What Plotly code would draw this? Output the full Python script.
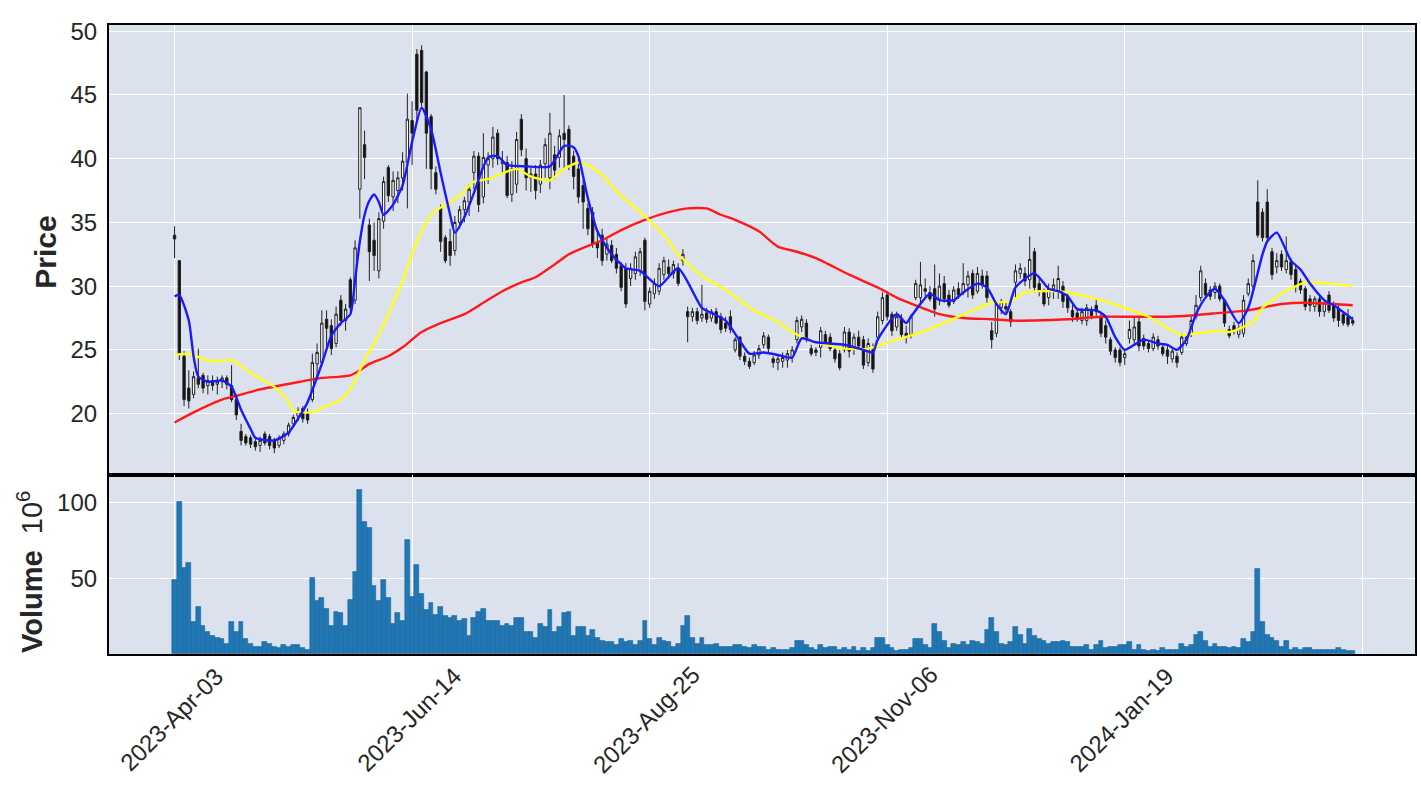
import plotly.graph_objects as go

# ---------------- data ----------------
opens = [34.0, 32.0, 24.5, 22.0, 21.5, 22.8, 23.0, 22.2, 22.6, 22.3,
         22.5, 22.8, 22.2, 21.1, 18.6, 18.2, 18.1, 17.8, 17.5, 18.4,
         18.2, 17.9, 17.5, 17.9, 18.4, 19.2, 19.8, 20.4, 20.0, 21.1,
         23.9, 24.0, 27.4, 26.9, 25.5, 28.9, 27.3, 30.5, 28.9, 37.6,
         41.1, 34.8, 33.6, 31.2, 35.1, 39.3, 37.0, 37.5, 38.5, 39.7,
         43.0, 48.2, 48.5, 46.8, 43.3, 38.9, 36.1, 33.8, 33.5, 32.8,
         35.0, 36.0, 36.6, 38.9, 40.2, 37.0, 39.5, 40.0, 42.0, 39.6,
         39.7, 37.2, 38.0, 43.1, 40.0, 38.5, 38.8, 38.0, 39.6, 38.5,
         40.3, 40.1, 42.0, 42.3, 40.2, 39.2, 37.9, 36.1, 35.8, 33.4,
         34.0, 32.5, 33.2, 32.5, 31.6, 31.4, 30.6, 31.0, 31.2, 33.6,
         28.6, 29.4, 29.6, 30.9, 31.5, 31.0, 31.4, 32.0, 28.0, 27.6,
         28.0, 27.5, 27.9, 27.5, 28.0, 27.6, 27.1, 27.6, 25.0, 26.0,
         24.5, 24.1, 24.0, 24.6, 25.4, 26.0, 24.3, 24.0, 24.1, 24.2,
         24.4, 25.8, 26.8, 27.1, 25.1, 25.0, 25.2, 26.2, 26.0, 25.0,
         24.7, 25.0, 26.4, 25.1, 26.0, 25.8, 24.0, 25.0, 26.0, 27.3,
         29.3, 27.8, 26.8, 27.5, 26.3, 26.2, 29.1, 29.1, 29.8, 29.5,
         29.8, 29.0, 30.2, 29.3, 28.8, 29.8, 29.5, 30.1, 31.0, 29.6,
         30.8, 30.8, 26.5, 26.3, 28.3, 28.4, 28.0, 30.3, 31.0, 31.0,
         30.5, 32.7, 30.2, 29.5, 29.1, 29.8, 29.6, 30.0, 29.2, 28.1,
         27.9, 27.3, 27.3, 28.1, 28.5, 27.6, 26.9, 25.8, 25.0, 25.0,
         24.4, 25.9, 25.8, 27.2, 25.9, 25.5, 25.1, 25.8, 25.2, 25.0,
         24.3, 24.5, 24.8, 25.5, 26.3, 27.6, 29.1, 30.2, 29.7, 29.5,
         30.0, 28.9, 26.6, 26.9, 26.2, 26.3, 29.4, 30.0, 36.6, 35.8,
         36.6, 32.7, 31.5, 32.5, 31.3, 31.9, 31.3, 30.4, 29.8, 29.0,
         28.4, 29.0, 28.0, 29.3, 28.6, 28.2, 27.8, 27.6, 27.3]

highs = [34.7, 32.0, 24.9, 23.4, 23.3, 25.1, 23.2, 23.0, 23.0, 22.9,
         23.0, 23.0, 23.8, 21.3, 19.2, 18.4, 18.3, 18.0, 18.2, 18.6,
         18.4, 18.1, 18.3, 18.6, 19.3, 19.9, 20.5, 20.6, 20.4, 24.7,
         25.5, 28.1, 28.1, 27.4, 28.4, 29.3, 28.6, 30.7, 33.6, 44.0,
         42.2, 35.3, 35.0, 35.8, 38.6, 39.5, 39.0, 39.0, 40.5, 45.1,
         44.5, 48.6, 48.9, 46.9, 43.5, 39.4, 36.4, 34.0, 34.5, 35.5,
         36.3, 37.0, 38.0, 40.6, 40.5, 42.0, 40.5, 42.5, 42.3, 40.6,
         40.2, 39.8, 42.1, 43.5, 40.8, 39.3, 39.5, 39.9, 41.6, 43.6,
         41.0, 42.3, 45.0, 42.6, 40.6, 40.0, 38.3, 36.5, 36.2, 34.5,
         34.5, 33.8, 33.6, 33.0, 31.9, 31.8, 31.8, 32.7, 33.0, 33.8,
         29.9, 30.6, 31.8, 32.3, 32.1, 32.0, 31.8, 32.9, 28.4, 28.3,
         28.3, 30.1, 28.3, 28.2, 28.3, 27.9, 27.6, 28.1, 26.0, 26.1,
         24.8, 24.4, 24.9, 25.4, 26.4, 26.2, 24.5, 24.6, 24.8, 25.0,
         25.3, 27.6, 27.7, 27.4, 25.4, 25.2, 26.8, 26.5, 26.3, 25.2,
         25.0, 26.8, 26.7, 26.3, 26.5, 26.1, 25.9, 25.5, 28.0, 29.5,
         29.6, 28.0, 28.0, 27.8, 26.9, 27.8, 30.5, 31.9, 30.6, 30.0,
         31.7, 31.0, 30.8, 29.7, 30.0, 30.3, 31.8, 31.2, 31.3, 31.5,
         31.3, 31.2, 27.2, 28.8, 29.0, 28.7, 28.2, 31.7, 31.8, 31.5,
         33.9, 33.0, 30.8, 29.8, 30.2, 30.6, 31.6, 30.4, 29.5, 28.5,
         28.3, 28.3, 28.6, 28.4, 29.0, 28.0, 27.3, 26.0, 25.2, 25.2,
         25.1, 27.3, 27.5, 27.6, 26.2, 25.8, 26.3, 26.1, 25.4, 25.3,
         25.1, 24.8, 26.3, 26.3, 27.6, 29.3, 31.6, 30.6, 30.0, 30.3,
         30.2, 29.0, 26.9, 27.2, 27.0, 29.3, 30.6, 32.5, 38.3, 36.1,
         37.6, 33.0, 32.6, 32.8, 33.9, 32.2, 31.6, 30.6, 30.0, 29.3,
         29.2, 29.3, 29.0, 29.6, 28.8, 28.5, 28.0, 28.2, 27.6]

lows = [32.2, 24.2, 20.6, 20.4, 21.2, 22.0, 21.6, 21.5, 21.8, 21.5,
        22.0, 21.9, 20.9, 19.5, 17.5, 17.5, 17.3, 17.1, 17.0, 17.5,
        17.2, 16.9, 17.3, 17.6, 18.2, 18.9, 19.4, 19.3, 19.2, 20.9,
        22.8, 23.8, 24.9, 24.6, 25.2, 26.9, 26.5, 28.0, 28.6, 35.3,
        38.4, 30.4, 31.2, 30.6, 34.5, 36.6, 35.9, 36.5, 37.5, 36.1,
        39.5, 42.8, 44.1, 39.2, 37.6, 37.2, 32.7, 31.8, 31.6, 32.4,
        34.5, 35.0, 35.5, 37.6, 35.8, 36.5, 38.0, 39.3, 39.5, 38.8,
        36.9, 36.6, 37.3, 40.2, 37.5, 37.4, 36.8, 37.3, 38.5, 37.6,
        38.4, 39.3, 39.1, 39.1, 37.6, 36.5, 34.5, 34.0, 33.0, 32.2,
        31.6, 32.0, 31.8, 31.0, 29.6, 28.3, 30.0, 30.5, 30.8, 28.1,
        28.3, 29.0, 29.3, 30.5, 30.8, 30.6, 30.0, 31.6, 25.6, 27.2,
        27.0, 27.2, 27.1, 27.2, 27.0, 26.3, 26.4, 26.3, 24.8, 24.2,
        23.8, 23.5, 23.8, 24.3, 25.1, 24.8, 23.6, 23.4, 23.6, 23.6,
        24.0, 25.5, 26.4, 25.6, 24.5, 24.5, 24.4, 25.3, 24.9, 24.0,
        23.4, 24.8, 24.4, 24.6, 25.0, 23.5, 23.7, 23.2, 25.8, 27.0,
        27.3, 26.1, 26.5, 25.9, 25.5, 25.9, 28.9, 28.6, 29.2, 28.8,
        27.6, 28.5, 28.7, 28.3, 28.6, 29.0, 29.3, 29.1, 29.0, 29.4,
        29.8, 28.7, 25.1, 26.0, 27.8, 27.8, 26.8, 29.0, 30.6, 30.0,
        29.8, 29.5, 29.2, 28.4, 28.5, 29.0, 29.0, 28.3, 27.9, 27.2,
        27.2, 27.0, 26.9, 27.4, 27.6, 26.0, 25.5, 24.6, 24.0, 23.7,
        23.8, 25.5, 25.3, 24.9, 25.0, 24.8, 24.9, 25.0, 24.5, 23.9,
        24.0, 23.6, 24.6, 25.3, 26.0, 27.4, 28.8, 29.0, 28.9, 29.0,
        28.8, 26.8, 25.9, 26.2, 25.9, 26.0, 29.2, 29.8, 33.8, 33.5,
        33.5, 30.5, 31.0, 31.2, 31.0, 30.5, 29.5, 29.4, 28.1, 28.0,
        28.0, 27.6, 27.6, 27.9, 27.2, 26.8, 26.9, 26.8, 26.9]

closes = [33.7, 24.7, 21.1, 21.0, 22.9, 22.3, 22.0, 22.6, 22.2, 22.5,
          22.8, 22.3, 21.1, 19.9, 17.9, 17.7, 17.6, 17.4, 17.9, 17.7,
          17.5, 17.3, 18.1, 18.4, 19.1, 19.7, 20.2, 19.6, 19.5, 24.0,
          24.8, 27.1, 26.7, 25.1, 27.8, 27.3, 28.2, 28.3, 33.0, 44.0,
          40.1, 32.7, 32.4, 35.3, 38.2, 37.1, 38.3, 38.5, 39.8, 43.1,
          42.0, 43.8, 44.4, 42.0, 39.2, 37.6, 33.5, 32.0, 32.4, 35.0,
          36.0, 36.7, 37.6, 40.2, 36.4, 40.1, 40.0, 41.7, 40.0, 39.8,
          37.1, 39.2, 41.5, 40.7, 38.5, 38.8, 37.5, 39.5, 41.1, 42.0,
          39.1, 41.8, 41.5, 39.5, 38.6, 37.0, 36.6, 34.5, 33.3, 33.0,
          32.0, 33.3, 32.0, 31.4, 29.9, 28.6, 31.4, 32.3, 32.7, 28.8,
          29.6, 30.2, 31.4, 32.0, 31.0, 31.7, 30.2, 32.5, 27.6, 28.0,
          27.3, 27.8, 27.4, 28.0, 27.1, 26.6, 26.7, 26.6, 25.8, 24.5,
          24.1, 23.7, 24.6, 25.1, 26.1, 25.1, 24.0, 24.3, 24.4, 24.7,
          25.0, 27.3, 27.4, 25.8, 24.7, 24.8, 26.5, 25.6, 25.1, 24.3,
          23.6, 26.4, 24.9, 26.0, 25.3, 23.8, 25.5, 23.5, 27.6, 29.1,
          27.6, 26.5, 27.6, 26.2, 26.0, 27.6, 30.2, 30.1, 29.6, 29.0,
          28.2, 30.0, 29.0, 28.5, 29.7, 29.3, 30.2, 30.8, 29.3, 31.0,
          30.1, 29.1, 25.8, 28.6, 28.8, 28.2, 27.2, 31.2, 31.4, 30.4,
          32.1, 29.9, 29.6, 28.6, 29.8, 30.1, 30.6, 28.8, 28.3, 27.6,
          27.4, 28.0, 28.3, 27.7, 28.0, 26.3, 26.0, 24.9, 24.4, 24.0,
          24.7, 26.6, 26.8, 25.3, 25.3, 25.1, 26.0, 25.3, 24.7, 24.5,
          24.9, 24.0, 26.0, 26.0, 27.3, 28.5, 31.2, 29.3, 29.2, 30.0,
          29.0, 27.1, 26.1, 26.5, 26.7, 28.9, 30.2, 32.0, 34.0, 33.8,
          33.8, 30.9, 32.0, 31.5, 32.0, 30.9, 30.0, 29.7, 28.4, 28.5,
          29.0, 28.0, 28.7, 28.1, 27.5, 27.3, 27.1, 27.0, 27.1]

# volume in millions
volumes = [49, 100, 57, 60, 21, 31, 19, 15, 12, 11,
           10, 7, 21, 15, 21, 10, 7, 5, 5, 8,
           7, 5, 4, 6, 5, 6, 6, 4, 3, 50,
           35, 37, 30, 19, 28, 27, 19, 36, 54, 108,
           87, 83, 45, 35, 49, 37, 20, 27, 22, 75,
           38, 59, 40, 29, 34, 26, 31, 25, 24, 25,
           22, 23, 12, 24, 28, 30, 22, 22, 22, 19,
           20, 19, 24, 24, 15, 15, 11, 20, 18, 29,
           15, 18, 27, 28, 12, 18, 18, 12, 16, 11,
           9, 8, 8, 6, 10, 8, 9, 6, 9, 22,
           10, 6, 11, 9, 8, 5, 7, 19, 25, 11,
           7, 11, 6, 6, 7, 5, 5, 5, 6, 6,
           5, 4, 6, 5, 5, 3, 4, 3, 3, 3,
           4, 9, 9, 6, 4, 3, 6, 4, 5, 5,
           3, 4, 3, 5, 2, 4, 2, 4, 11, 11,
           6, 4, 2, 3, 3, 4, 10, 10, 6, 4,
           20, 15, 9, 4, 7, 6, 8, 6, 9, 8,
           7, 16, 24, 15, 7, 6, 8, 18, 13, 7,
           17, 12, 10, 9, 7, 8, 8, 9, 8, 5,
           5, 5, 6, 3, 6, 9, 4, 5, 5, 6,
           6, 8, 3, 6, 3, 2, 3, 2, 4, 3,
           3, 3, 7, 5, 6, 13, 15, 9, 5, 7,
           5, 5, 4, 5, 4, 10, 8, 15, 56, 21,
           13, 11, 9, 5, 9, 3, 4, 3, 4, 4,
           3, 3, 3, 3, 3, 4, 3, 2, 2]

# moving-average lines, read at sample bar positions
ma_fast_idx = [0, 1, 3, 4, 5, 7, 10, 12, 14, 16, 17, 21, 24, 26, 28, 31, 33, 35, 37, 38,
               39, 40, 41, 42, 43, 44, 46, 48, 50, 52, 54, 56, 58, 59, 61, 63, 66, 68, 70, 74,
               79, 82, 84, 85, 87, 89, 92, 95, 98, 102, 106, 111, 113, 116, 119, 121, 124, 127, 130, 132,
               135, 141, 145, 147, 148, 152, 154, 155, 159, 161, 164, 166, 169, 171, 173, 175, 177, 181, 184, 186,
               188, 190, 194, 196, 198, 200, 202, 204, 207, 209, 211, 213, 215, 217, 219, 221, 224, 226, 229, 230,
               232, 235, 237, 239, 242, 244, 248]
ma_fast_val = [29.2, 29.3, 27.3, 24.5, 22.9, 22.5, 22.6, 22.1, 20.3, 18.8, 18.1, 17.9, 18.5, 19.6, 20.9, 23.9, 26.1, 27.1, 27.8, 30.5,
               33.5, 35.6, 36.7, 37.2, 36.6, 35.6, 36.4, 37.9, 41.3, 44.0, 42.3, 38.9, 35.6, 34.2, 35.4, 37.3, 40.1, 40.2, 39.5, 39.4,
               39.4, 41.0, 40.9, 40.2, 36.9, 34.3, 32.5, 31.4, 31.2, 30.0, 31.4, 28.3, 27.9, 27.3, 25.7, 24.7, 24.8, 24.6, 24.4, 25.9,
               25.6, 25.4, 25.0, 24.8, 25.8, 27.8, 27.1, 27.6, 29.4, 28.9, 28.9, 29.5, 30.2, 29.9, 28.6, 27.8, 29.9, 31.0, 29.8, 29.6,
               29.2, 28.2, 28.1, 27.6, 26.0, 25.0, 25.4, 25.8, 25.5, 25.4, 25.0, 25.8, 27.8, 29.1, 29.8, 28.9, 27.1, 28.3, 32.5, 33.5,
               34.2, 32.0, 31.3, 30.2, 28.9, 28.5, 27.4]

ma_mid_idx = [0, 3, 6, 8, 12, 16, 21, 24, 25, 27, 29, 32, 35, 37, 39, 41, 42, 45, 48, 51,
              54, 57, 60, 63, 66, 68, 72, 75, 79, 82, 85, 87, 90, 94, 99, 103, 106, 111, 116, 122,
              127, 130, 134, 141, 146, 151, 158, 165, 172, 176, 179, 186, 193, 200, 205, 209, 212, 215, 220, 222,
              227, 229, 233, 238, 243, 248]
ma_mid_val = [24.6, 24.7, 24.3, 24.1, 24.2, 23.2, 22.1, 20.9, 20.2, 20.1, 20.1, 20.6, 21.1, 21.9, 23.4, 24.9, 25.5, 27.8, 30.4, 33.5,
              35.6, 36.4, 37.1, 38.2, 38.4, 38.7, 39.2, 38.6, 38.3, 39.2, 39.7, 39.5, 38.7, 37.1, 35.5, 34.0, 32.5, 30.8, 29.7, 28.1,
              27.2, 26.4, 25.7, 25.1, 25.1, 25.7, 26.5, 27.6, 28.7, 28.8, 29.5, 29.6, 29.1, 28.3, 27.6, 26.7, 26.2, 26.3, 26.5, 26.4,
              27.2, 28.3, 29.4, 30.3, 30.2, 30.0]

ma_slow_idx = [0, 4, 10, 13, 18, 25, 31, 35, 37, 39, 41, 45, 48, 52, 56, 61, 65, 69, 73, 76,
               80, 83, 86, 90, 94, 99, 104, 108, 112, 115, 118, 123, 127, 131, 135, 142, 148, 152, 158, 161,
               166, 172, 176, 181, 188, 195, 202, 209, 214, 220, 226, 230, 233, 238, 244, 248]
ma_slow_val = [19.3, 20.1, 21.1, 21.4, 21.9, 22.4, 22.8, 22.9, 23.0, 23.4, 23.9, 24.5, 25.2, 26.4, 27.1, 27.8, 28.7, 29.6, 30.3, 30.7,
               31.7, 32.5, 33.0, 33.6, 34.4, 35.2, 35.8, 36.1, 36.1, 35.6, 35.2, 34.3, 33.1, 32.7, 32.2, 30.9, 29.9, 29.1, 28.2, 27.8,
               27.5, 27.4, 27.3, 27.3, 27.4, 27.6, 27.6, 27.6, 27.7, 27.9, 28.1, 28.4, 28.6, 28.7, 28.6, 28.5]

tick_idx = [0, 50, 100, 150, 200, 250]
tick_labels = ["2023-Apr-03", "2023-Jun-14", "2023-Aug-25", "2023-Nov-06", "2024-Jan-19", ""]

price_ticks = [20, 25, 30, 35, 40, 45, 50]
volume_ticks = [50, 100]

# ---------------- figure ----------------
n = min(len(opens), len(highs), len(lows), len(closes), len(volumes))
bar_x = list(range(n))

W, H = 1421, 785
def px_x(p):
    return p / W
def px_y(p):
    return (H - p) / H

FONT = "Liberation Sans, Arial, sans-serif"
TXT = "#262626"
BG = "#DCE2ED"

fig = go.Figure()

fig.add_trace(go.Candlestick(
    x=bar_x, open=opens[:n], high=highs[:n], low=lows[:n], close=closes[:n],
    xaxis="x", yaxis="y",
    increasing=dict(fillcolor="white", line=dict(color="#222222", width=1)),
    decreasing=dict(fillcolor="#111111", line=dict(color="#222222", width=1)),
    whiskerwidth=0, showlegend=False, hoverinfo="skip",
))

for idx, val, col in [(ma_slow_idx, ma_slow_val, "#ff1a1a"),
                      (ma_mid_idx, ma_mid_val, "#ffff1a"),
                      (ma_fast_idx, ma_fast_val, "#1a1aff")]:
    fig.add_trace(go.Scatter(
        x=idx, y=val, mode="lines", xaxis="x", yaxis="y",
        line=dict(color=col, width=2.4, shape="spline", smoothing=0.6),
        showlegend=False, hoverinfo="skip",
    ))

fig.add_trace(go.Bar(
    x=bar_x, y=volumes[:n], xaxis="x2", yaxis="y2", width=1.0,
    marker=dict(color="#1f77b4", line=dict(color="#1a5f90", width=0.5)),
    showlegend=False, hoverinfo="skip",
))

xdom = [px_x(109), px_x(1415)]
xrange_ = [-13.8, 261.1]
common_x = dict(
    domain=xdom, range=xrange_, tickvals=tick_idx, showticklabels=False,
    showgrid=True, gridcolor="white", gridwidth=1.3, zeroline=False,
    showline=True, mirror=True, linecolor="black", linewidth=2.2, ticks="",
)
common_y = dict(
    showgrid=True, gridcolor="white", gridwidth=1.3, zeroline=False,
    showline=True, mirror=True, linecolor="black", linewidth=2.2,
    ticks="outside", ticklen=5, tickcolor="rgba(0,0,0,0)",
    tickfont=dict(family=FONT, size=24, color=TXT),
)

fig.update_layout(
    width=W, height=H,
    margin=dict(l=0, r=0, t=0, b=0),
    paper_bgcolor="white", plot_bgcolor=BG,
    font=dict(family=FONT, color=TXT),
    bargap=0,
    xaxis=dict(anchor="y", rangeslider=dict(visible=False), **common_x),
    xaxis2=dict(anchor="y2", matches="x", **common_x),
    yaxis=dict(domain=[px_y(472), px_y(18)], range=[15.2, 50.5], tickvals=price_ticks,
               anchor="x", **common_y),
    yaxis2=dict(domain=[px_y(653), px_y(472)], range=[0, 118], tickvals=volume_ticks,
                anchor="x2", **common_y),
)

annotations = []
for i, lab in zip(tick_idx, tick_labels):
    if not lab:
        continue
    annotations.append(dict(
        x=i, y=px_y(719), xref="x2", yref="paper", text=lab, showarrow=False,
        textangle=-45, xanchor="center", yanchor="middle", xshift=-3,
        font=dict(family=FONT, size=24, color=TXT),
    ))
annotations.append(dict(
    x=px_x(46), y=px_y(248), xref="paper", yref="paper", text="<b>Price</b>",
    showarrow=False, textangle=-90, xanchor="center", yanchor="middle",
    font=dict(family=FONT, size=30, color=TXT),
))
annotations.append(dict(
    x=px_x(30), y=px_y(570), xref="paper", yref="paper",
    text="<b>Volume</b>&nbsp;&nbsp;10<sup>6</sup>",
    showarrow=False, textangle=-90, xanchor="center", yanchor="middle",
    font=dict(family=FONT, size=29, color=TXT),
))
fig.update_layout(annotations=annotations)

fig.write_html("out.html", config={"displayModeBar": False},
               post_script="document.body.style.margin='0';document.body.style.padding='0';")
